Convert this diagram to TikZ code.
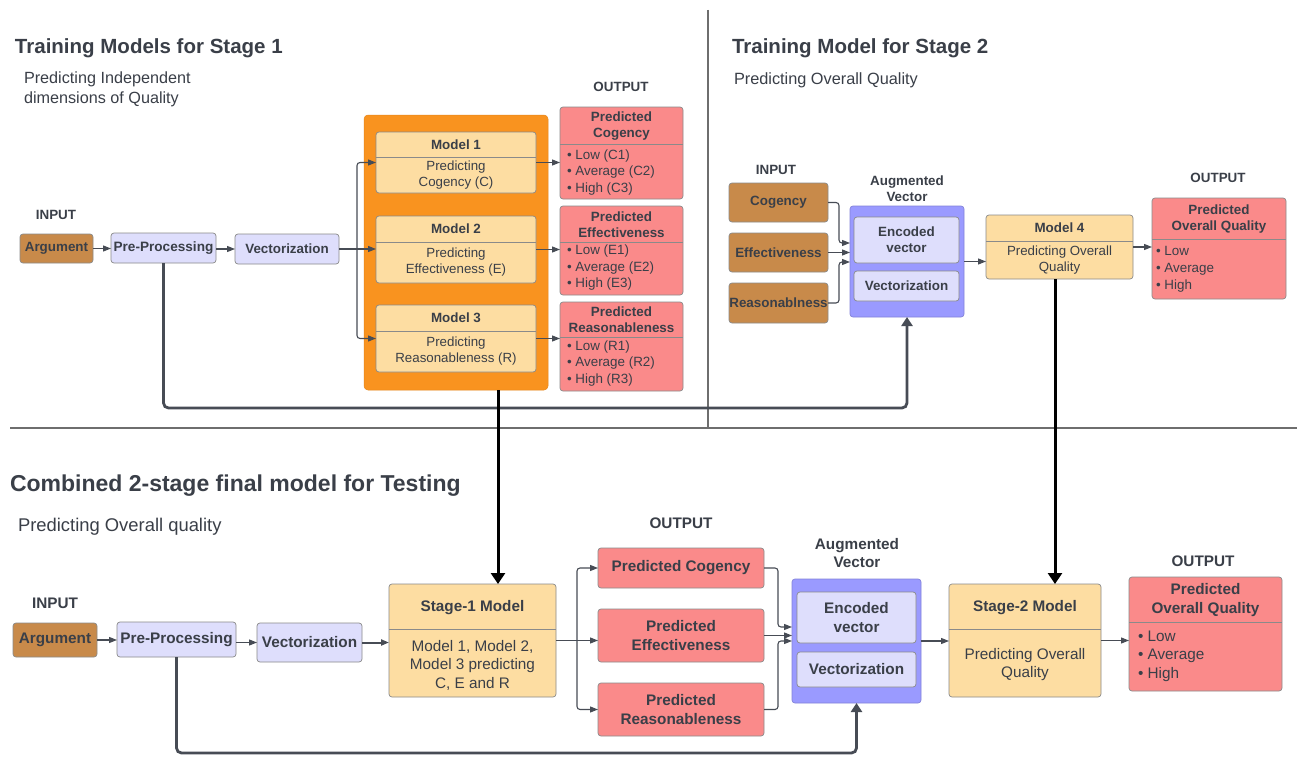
\documentclass[tikz,border=0pt]{standalone}
\usepackage{fontspec}
\setmainfont{Liberation Sans}
\usetikzlibrary{arrows.meta,calc}
\definecolor{txt}{HTML}{3A3F48}
\definecolor{brownc}{HTML}{C88A4A}
\definecolor{lav}{HTML}{DEDEFC}
\definecolor{purp}{HTML}{9A9AFF}
\definecolor{orng}{HTML}{F9931F}
\definecolor{pale}{HTML}{FDDDA2}
\definecolor{redc}{HTML}{FA8A8A}
\definecolor{bord}{HTML}{8A8A8A}
\definecolor{lnc}{HTML}{474C55}
\definecolor{sepc}{HTML}{6E6E6E}
\tikzset{
  every node/.style={inner sep=0pt, outer sep=0pt, text=txt},
  box/.style={draw=bord, line width=0.7pt, rounded corners=3pt},
  brownbox/.style={box, fill=brownc},
  lavbox/.style={box, fill=lav},
  purpbox/.style={draw=purp!85!black, line width=0.7pt, rounded corners=3pt, fill=purp},
  orbox/.style={draw=orng!92!black, line width=0.5pt, rounded corners=4pt, fill=orng},
  palebox/.style={box, fill=pale},
  redbox/.style={box, fill=redc},
  fa/.style={font=\fontsize{13.3}{16}\selectfont, align=center},
  fab/.style={font=\bfseries\fontsize{13.4}{16}\selectfont, align=center},
  fb/.style={font=\fontsize{15.3}{18.5}\selectfont, align=center},
  fbb/.style={font=\bfseries\fontsize{15.3}{19}\selectfont, align=center},
  conn/.style={draw=lnc, line width=1.1pt, rounded corners=3pt, -{Triangle[length=8pt,width=6pt]}},
  tconn/.style={draw=lnc, line width=2.8pt, rounded corners=5pt, -{Triangle[length=9pt,width=11pt]}},
  blk/.style={draw=black, line width=3pt, -{Triangle[length=11pt,width=14pt]}},
  sepl/.style={draw=sepc, line width=1.1pt},
  divl/.style={draw=bord, line width=0.7pt},
}
\begin{document}
\begin{tikzpicture}[x=1pt,y=-1pt]
\useasboundingbox (0,0) rectangle (1302,760);
\fill[white] (0,0) rectangle (1302,760);

% section lines
\draw[sepl] (708,10) -- (708,428);
\draw[sepl] (10,428) -- (1297,428);

% ---------- Stage 1 training ----------
\node[anchor=west, font=\bfseries\fontsize{20.5}{24}\selectfont] (t1) at (15,48) {Training Models for Stage 1};
\node[anchor=west, align=left, font=\fontsize{16.2}{20}\selectfont] (s1) at (24,89) {Predicting Independent\\dimensions of Quality};
\node[fab] (in1) at (56,215) {INPUT};
\node[brownbox, minimum width=73pt, minimum height=29pt, fab] (arg1) at (56.5,248.5) {Argument};
\node[lavbox, minimum width=105pt, minimum height=30pt, font=\bfseries\fontsize{13.6}{16}\selectfont] (pre1) at (163.5,248) {Pre-Processing};
\node[lavbox, minimum width=104pt, minimum height=30pt, fab] (vec1) at (287,249) {Vectorization};

\node[orbox, minimum width=184pt, minimum height=275pt] (orange) at (456,252.5) {};
\node[palebox, minimum width=160pt, minimum height=61pt] (m1) at (456,162.5) {};
\draw[divl] (376,157) -- (536,157);
\node[fab] (m1h) at (456,145) {Model 1};
\node[fa] (m1b) at (456,175.5) {Predicting\\Cogency (C)};
\node[palebox, minimum width=160pt, minimum height=67pt] (m2) at (456,249.5) {};
\draw[divl] (376,242.5) -- (536,242.5);
\node[fab] (m2h) at (456,229) {Model 2};
\node[fa] (m2b) at (456,262.5) {Predicting\\Effectiveness (E)};
\node[palebox, minimum width=160pt, minimum height=67pt] (m3) at (456,338.5) {};
\draw[divl] (376,331) -- (536,331);
\node[fab] (m3h) at (456,318) {Model 3};
\node[fa] (m3b) at (456,351.5) {Predicting\\Reasonableness (R)};

\node[fab] (out1) at (621,87) {OUTPUT};
\node[redbox, minimum width=123pt, minimum height=92pt] (pc1) at (621.5,153) {};
\draw[divl] (560,144) -- (683,144);
\node[fab] (pc1h) at (621.5,126.5) {Predicted\\Cogency};
\node[anchor=west, align=left, font=\fontsize{13.4}{16.5}\selectfont] (pc1b) at (567,172.5) {• Low (C1)\\• Average (C2)\\• High (C3)};
\node[redbox, minimum width=123pt, minimum height=89pt] (pe1) at (621.5,250.5) {};
\draw[divl] (560,242) -- (683,242);
\node[fab] (pe1h) at (621.5,225) {Predicted\\Effectiveness};
\node[anchor=west, align=left, font=\fontsize{13.4}{16.5}\selectfont] (pe1b) at (567,268) {• Low (E1)\\• Average (E2)\\• High (E3)};
\node[redbox, minimum width=123pt, minimum height=89pt] (pr1) at (621.5,346.5) {};
\draw[divl] (560,337) -- (683,337);
\node[fab] (pr1h) at (621.5,320) {Predicted\\Reasonableness};
\node[anchor=west, align=left, font=\fontsize{13.4}{16.5}\selectfont] (pr1b) at (567,363.5) {• Low (R1)\\• Average (R2)\\• High (R3)};

\draw[conn] (arg1.east) -- (arg1.east -| pre1.west);
\draw[conn] (pre1.east |- vec1.west) -- (vec1.west);
\coordinate (br1) at (357,249);
\draw[draw=lnc, line width=1.1pt] (vec1.east) -- (br1);
\draw[conn] (br1) |- (m1.west);
\draw[conn] (br1) -- (br1 -| m2.west);
\draw[conn] (br1) |- (m3.west);
\draw[conn] (m1.east) -- (m1.east -| pc1.west);
\draw[conn] (m2.east) -- (m2.east -| pe1.west);
\draw[conn] (m3.east) -- (m3.east -| pr1.west);

% ---------- Stage 2 training ----------
\node[anchor=west, font=\bfseries\fontsize{20.5}{24}\selectfont] (t2) at (732,48) {Training Model for Stage 2};
\node[anchor=west, font=\fontsize{16.3}{20}\selectfont] (s2) at (734,80) {Predicting Overall Quality};
\node[fab] (in2) at (776,170) {INPUT};
\node[brownbox, minimum width=99pt, minimum height=39pt, fab] (cog) at (778.5,202.5) {Cogency};
\node[brownbox, minimum width=99pt, minimum height=39pt, fab] (eff) at (778.5,252.5) {Effectiveness};
\node[brownbox, minimum width=99pt, minimum height=40pt, fab] (rea) at (778.5,303) {Reasonablness};
\node[fab] (aug2) at (907,189) {Augmented\\Vector};
\node[purpbox, minimum width=114pt, minimum height=111pt] (purple2) at (907,261.5) {};
\node[lavbox, minimum width=105pt, minimum height=46pt, fab] (enc2) at (906.5,240) {Encoded\\vector};
\node[lavbox, minimum width=105pt, minimum height=30pt, fab] (vz2) at (906.5,286) {Vectorization};
\node[palebox, minimum width=147pt, minimum height=64pt] (m4) at (1059.5,247) {};
\draw[divl] (986,241) -- (1133,241);
\node[fab] (m4h) at (1059.5,228) {Model 4};
\node[fa] (m4b) at (1059.5,260) {Predicting Overall\\Quality};
\node[fab] (out2) at (1218,178) {OUTPUT};
\node[redbox, minimum width=134pt, minimum height=101pt] (po2) at (1219,248.5) {};
\draw[divl] (1152,239) -- (1286,239);
\node[fab] (po2h) at (1219,219.5) {Predicted\\Overall Quality};
\node[anchor=west, align=left, font=\fontsize{13.4}{17}\selectfont] (po2b) at (1156,269) {• Low\\• Average\\• High};

\draw[conn] (cog.east) -- ++(11,0) |- ($(purple2.west)+(0,-18.5)$);
\draw[conn] (eff.east) -- (eff.east -| purple2.west);
\draw[conn] (rea.east) -- ++(11,0) |- ($(purple2.west)+(0,0.5)$);
\draw[conn] (purple2.east) -- (purple2.east -| m4.west);
\draw[conn] (m4.east) -- (m4.east -| po2.west);
\draw[tconn] (pre1.south) -- ++(0,145) -| (purple2.south);

% ---------- Combined ----------
\node[anchor=west, font=\bfseries\fontsize{23}{27}\selectfont] (t3) at (10,486) {Combined 2-stage final model for Testing};
\node[anchor=west, font=\fontsize{18.4}{22}\selectfont] (s3) at (18,527) {Predicting Overall quality};
\node[fbb] (in3) at (55,603) {INPUT};
\node[brownbox, minimum width=84pt, minimum height=34pt, fbb] (arg3) at (55,640) {Argument};
\node[lavbox, minimum width=119pt, minimum height=35pt, fbb] (pre3) at (176.5,639.5) {Pre-Processing};
\node[lavbox, minimum width=105pt, minimum height=39pt, fbb] (vec3) at (309.5,642.5) {Vectorization};
\node[palebox, minimum width=167pt, minimum height=113pt] (st1) at (472.5,640.5) {};
\draw[divl] (389,629) -- (556,629);
\node[fbb] (st1h) at (472.5,607.5) {Stage-1 Model};
\node[fb] (st1b) at (472.5,665) {Model 1, Model 2,\\Model 3 predicting\\C, E and R};
\node[fbb] (out3) at (681,523) {OUTPUT};
\node[redbox, minimum width=166pt, minimum height=40pt, fbb] (pc3) at (681,568) {Predicted Cogency};
\node[redbox, minimum width=166pt, minimum height=53pt, fbb] (pe3) at (681,635.5) {Predicted\\Effectiveness};
\node[redbox, minimum width=166pt, minimum height=53pt, fbb] (pr3) at (681,709.5) {Predicted\\Reasonableness};
\node[fbb, font=\bfseries\fontsize{15.3}{18}\selectfont] (aug3) at (857,553) {Augmented\\Vector};
\node[purpbox, minimum width=129pt, minimum height=124pt] (purple3) at (856.5,641) {};
\node[lavbox, minimum width=119pt, minimum height=51pt, fbb] (enc3) at (856.5,617.5) {Encoded\\vector};
\node[lavbox, minimum width=119pt, minimum height=35pt, fbb] (vz3) at (856.5,669.5) {Vectorization};
\node[palebox, minimum width=152pt, minimum height=113pt] (st2) at (1025,640.5) {};
\draw[divl] (949,629) -- (1101,629);
\node[fbb] (st2h) at (1025,607.5) {Stage-2 Model};
\node[fb, font=\fontsize{15.3}{18}\selectfont] (st2b) at (1025,665) {Predicting Overall\\Quality};
\node[fbb] (out4) at (1203,561) {OUTPUT};
\node[redbox, minimum width=153pt, minimum height=114pt] (po3) at (1205.5,634) {};
\draw[divl] (1129,622) -- (1282,622);
\node[fbb] (po3h) at (1205.5,600.5) {Predicted\\Overall Quality};
\node[anchor=west, align=left, font=\fontsize{15.3}{18.5}\selectfont] (po3b) at (1138,656) {• Low\\• Average\\• High};

\draw[conn] (arg3.east) -- (arg3.east -| pre3.west);
\draw[conn] (pre3.east |- vec3.west) -- (vec3.west);
\draw[conn, line width=2pt] (vec3.east) -- (vec3.east -| st1.west);
\coordinate (br3) at (577,640.5);
\draw[draw=lnc, line width=1.1pt] (st1.east) -- (br3);
\draw[conn] (br3) |- (pc3.west);
\draw[conn] (br3) -- (br3 -| pe3.west);
\draw[conn] (br3) |- (pr3.west);
\draw[conn] (pc3.east) -- ++(14,0) |- ($(purple3.west)+(0,-14)$);
\draw[conn] (pe3.east) -- (pe3.east -| purple3.west);
\draw[conn] (pr3.east) -- ++(14,0) |- (purple3.west);
\draw[conn] (purple3.east) -- (purple3.east -| st2.west);
\draw[conn] (st2.east) -- (st2.east -| po3.west);
\draw[tconn] (pre3.south) -- ++(0,96) -| (purple3.south);

% ---------- cross-section arrows ----------
\coordinate (ob) at ($(orange.south)+(42,0)$);
\draw[blk] (ob) -- (ob |- st1.north);
\coordinate (mb) at ($(m4.south)+(-4.5,0)$);
\draw[blk] (mb) -- (mb |- st2.north);
\end{tikzpicture}
\end{document}
